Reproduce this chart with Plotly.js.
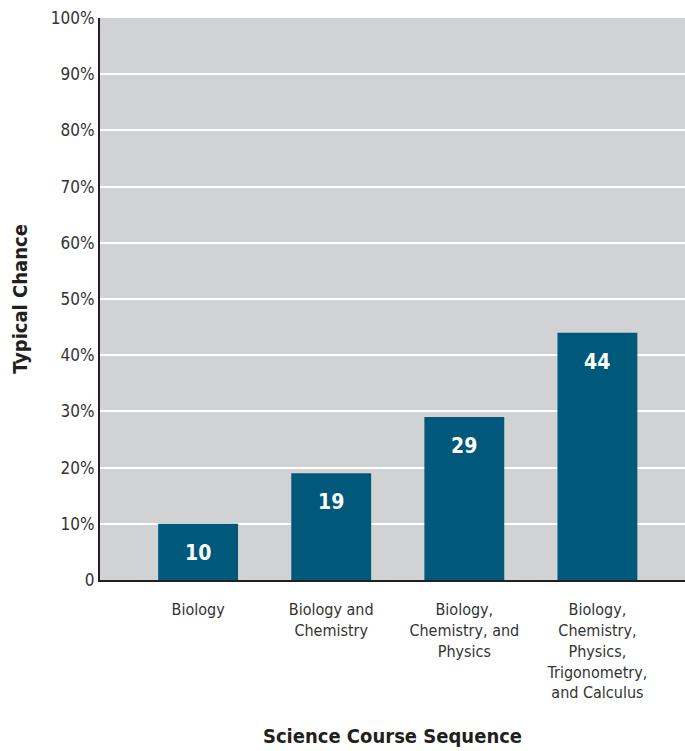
<!DOCTYPE html>
<html>
<head>
<meta charset="utf-8">
<script src="https://cdn.plot.ly/plotly-3.0.1.min.js"></script>
<style>html,body{margin:0;padding:0;background:#fff;}</style>
</head>
<body>
<div id="chart" style="width:685px;height:751px;"></div>
<script>
const categories = ["Biology", "Biology and<br>Chemistry", "Biology,<br>Chemistry, and<br>Physics", "Biology,<br>Chemistry,<br>Physics,<br>Trigonometry,<br>and Calculus"];
const values = [10, 19, 29, 44];
const yTickVals = [0, 10, 20, 30, 40, 50, 60, 70, 80, 90, 100];
const yTickText = ["0", "10%", "20%", "30%", "40%", "50%", "60%", "70%", "80%", "90%", "100%"];

const FONT = '"Liberation Sans Narrow", "DejaVu Sans Condensed", "Roboto Condensed", Arial, sans-serif';
const xIdx = categories.map((c, i) => i);

const trace = {
  type: 'bar',
  x: xIdx,
  y: values,
  width: 0.6,
  marker: {color: '#00587a', line: {width: 0}},
  hoverinfo: 'skip'
};

const annotations = values.map((v, i) => ({
  x: i, y: v, xref: 'x', yref: 'y',
  text: '<b>' + v + '</b>',
  showarrow: false,
  yanchor: 'top',
  yshift: -15,
  font: {family: FONT, size: 21, color: '#ffffff'}
}));

const layout = {
  width: 685, height: 751,
  margin: {l: 100, r: 0, t: 18, b: 171},
  paper_bgcolor: '#ffffff',
  plot_bgcolor: '#d1d2d4',
  showlegend: false,
  bargap: 0.4,
  annotations: annotations,
  xaxis: {
    tickmode: 'array',
    tickvals: xIdx,
    ticktext: categories,
    range: [-0.737, 3.658],
    showgrid: false,
    zeroline: false,
    showline: true,
    linecolor: '#231f20',
    linewidth: 2,
    ticks: 'outside', ticklen: 14, tickcolor: 'rgba(0,0,0,0)',
    tickfont: {family: FONT, size: 16, color: '#333333'},
    title: {text: '<b>Science Course Sequence</b>', standoff: 28, font: {family: FONT, size: 20, color: '#231f20'}},
    fixedrange: true
  },
  yaxis: {
    range: [0, 100],
    tickmode: 'array',
    tickvals: yTickVals,
    ticktext: yTickText,
    showgrid: true,
    gridcolor: '#ffffff',
    gridwidth: 2,
    zeroline: false,
    showline: true,
    linecolor: '#231f20',
    linewidth: 2,
    ticks: 'outside', ticklen: 0, tickcolor: 'rgba(0,0,0,0)',
    tickfont: {family: FONT, size: 17, color: '#333333'},
    title: {text: '<b>Typical Chance</b>', standoff: 18, font: {family: FONT, size: 20, color: '#231f20'}},
    fixedrange: true
  }
};

Plotly.newPlot('chart', [trace], layout, {displayModeBar: false, staticPlot: true});
</script>
</body>
</html>
